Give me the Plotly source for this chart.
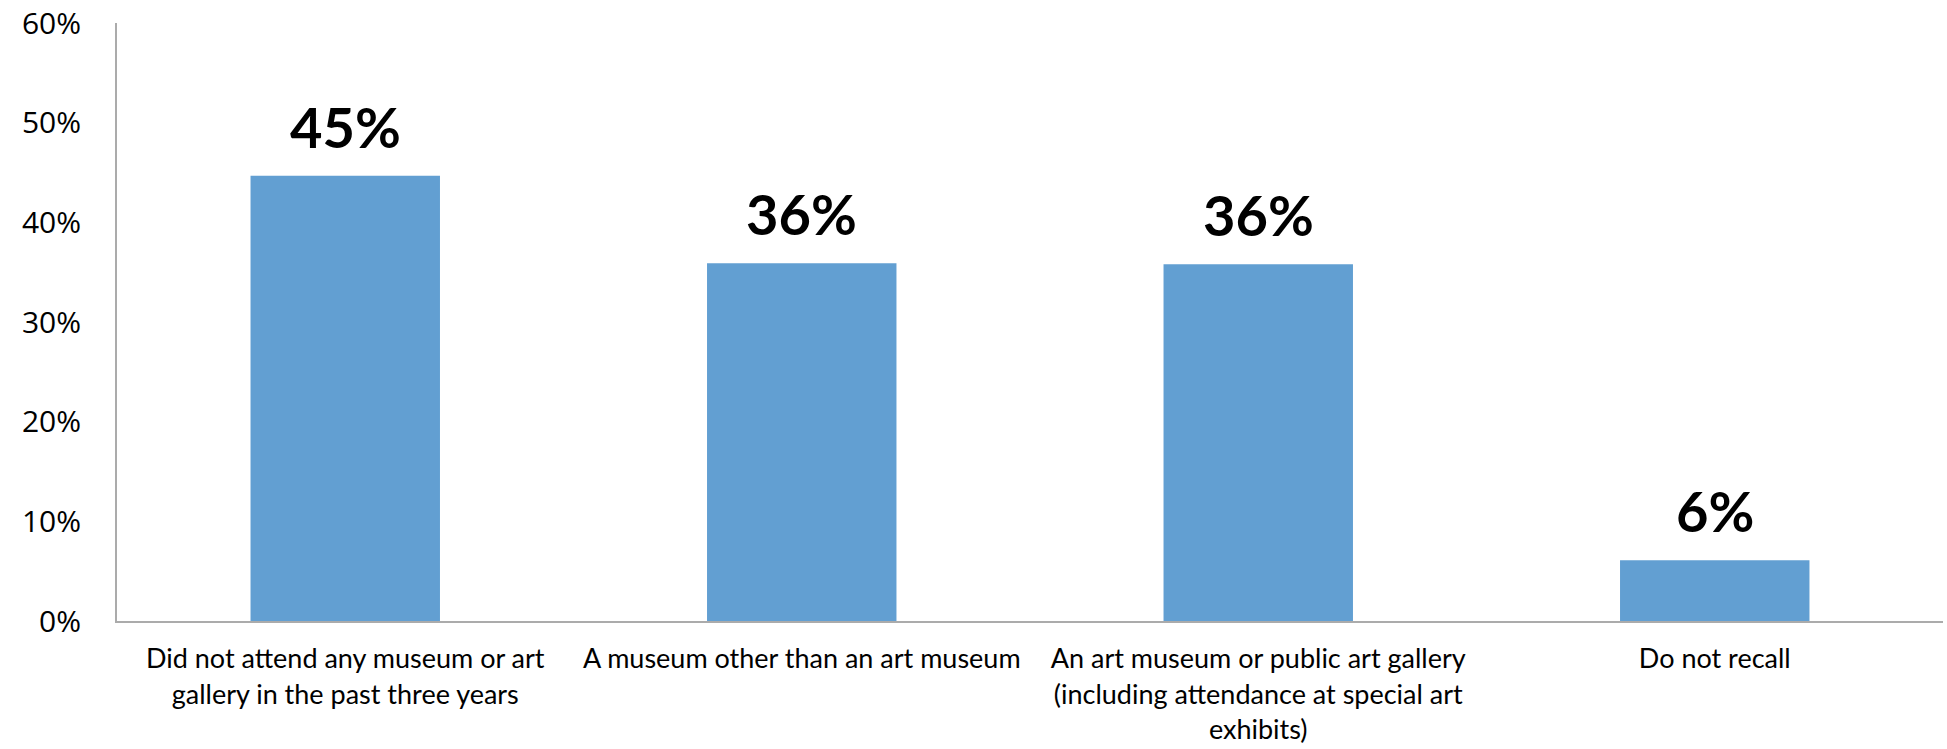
import plotly.graph_objects as go

categories = [
    "Did not attend any museum or art<br>gallery in the past three years",
    "A museum other than an art museum",
    "An art museum or public art gallery<br>(including attendance at special art<br>exhibits)",
    "Do not recall",
]
values = [0.447, 0.359, 0.358, 0.061]
value_labels = ["45%", "36%", "36%", "6%"]
y_ticks = [0, 0.1, 0.2, 0.3, 0.4, 0.5, 0.6]
y_tick_labels = ["0%", "10%", "20%", "30%", "40%", "50%", "60%"]

BAR_COLOR = "#629FD2"
AXIS_COLOR = "#ABABAB"

fig = go.Figure()
fig.add_trace(go.Bar(
    x=categories,
    y=values,
    width=0.415,
    marker=dict(color=BAR_COLOR, line=dict(width=0)),
    showlegend=False,
    hoverinfo="skip",
))

for c, v, t in zip(categories, values, value_labels):
    fig.add_annotation(
        x=c, y=v, text=t, showarrow=False,
        xanchor="center", yanchor="bottom", yshift=14,
        font=dict(family="Lato", size=56, color="#000000", weight="bold"),
    )

fig.update_layout(
    width=1947, height=749,
    margin=dict(l=117, r=4, t=23, b=128, autoexpand=False),
    paper_bgcolor="white", plot_bgcolor="white",
    bargap=0.585,
)
fig.update_xaxes(
    showline=True, linecolor=AXIS_COLOR, linewidth=2,
    showgrid=False, ticks="", ticklabelstandoff=13, automargin=False,
    tickfont=dict(family="Lato", size=27, color="#000000"),
)
fig.update_yaxes(
    range=[0, 0.6002], tickvals=y_ticks, ticktext=y_tick_labels,
    showline=True, linecolor=AXIS_COLOR, linewidth=2,
    showgrid=False, zeroline=False, ticks="", ticklabelstandoff=28,
    ticklabeloverflow="allow", automargin=False,
    tickfont=dict(family="Open Sans", size=30, color="#000000"),
)

fig.write_html("out.html")
